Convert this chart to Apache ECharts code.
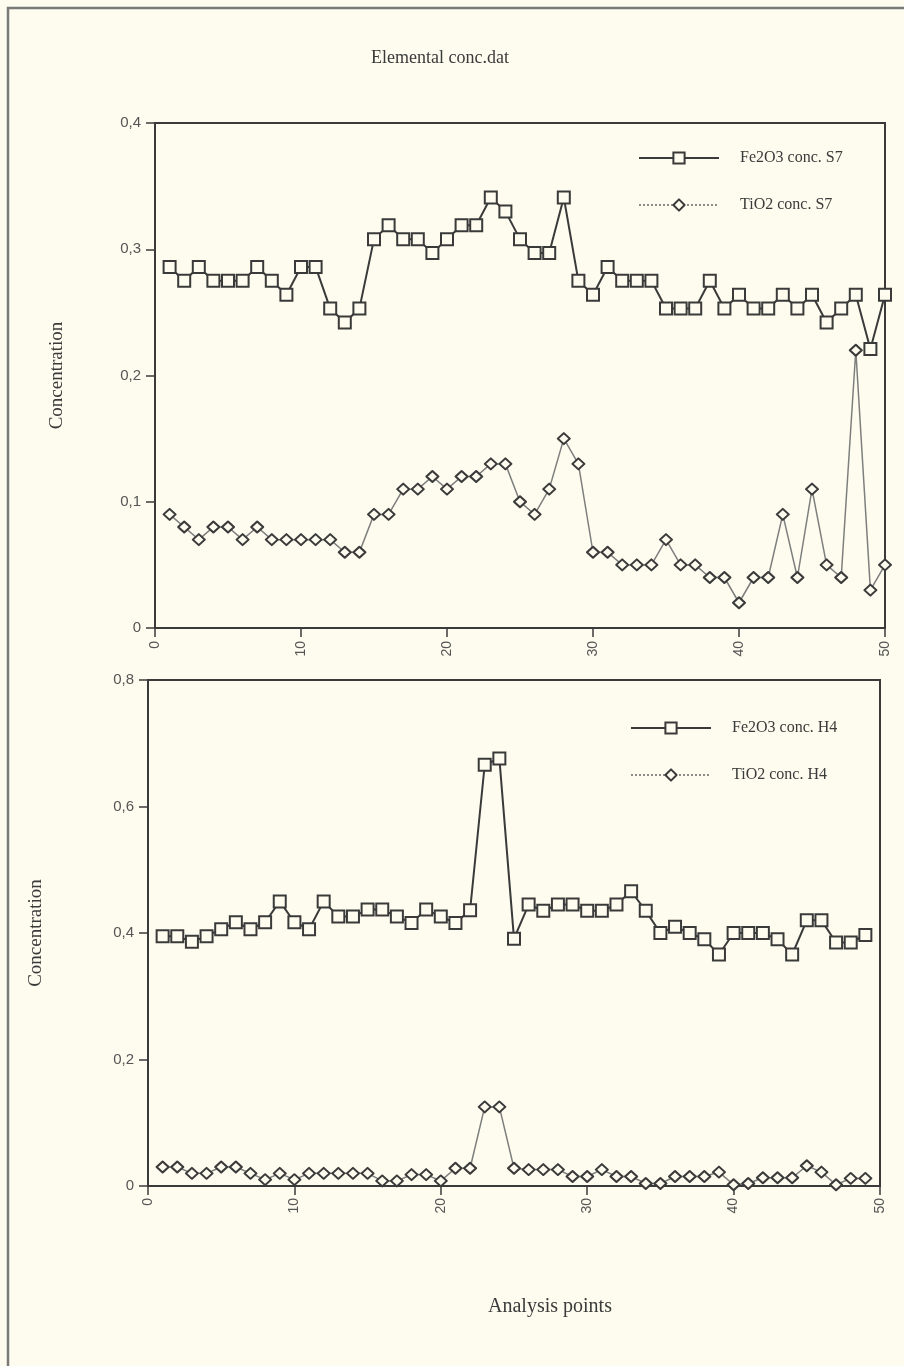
<!DOCTYPE html>
<html><head><meta charset="utf-8">
<script src="https://cdn.jsdelivr.net/npm/echarts@6/dist/echarts.min.js"></script>
<style>html,body{margin:0;padding:0;background:#fdfcef;} #c{width:904px;height:1366px;}</style>
</head><body><div id="c"></div>
<script>
// ---- data ----
const titleText = 'Elemental conc.dat';
const yName = 'Concentration';
const xName = 'Analysis points';
const seriesNames = ['Fe2O3 conc. S7', 'TiO2 conc. S7', 'Fe2O3 conc. H4', 'TiO2 conc. H4'];
const xTicks = [0, 10, 20, 30, 40, 50];

const feS7 = [0.286,0.275,0.286,0.275,0.275,0.275,0.286,0.275,0.264,0.286,
              0.286,0.253,0.242,0.253,0.308,0.319,0.308,0.308,0.297,0.308,
              0.319,0.319,0.341,0.330,0.308,0.297,0.297,0.341,0.275,0.264,
              0.286,0.275,0.275,0.275,0.253,0.253,0.253,0.275,0.253,0.264,
              0.253,0.253,0.264,0.253,0.264,0.242,0.253,0.264,0.221,0.264];
const tiS7 = [0.09,0.08,0.07,0.08,0.08,0.07,0.08,0.07,0.07,0.07,
              0.07,0.07,0.06,0.06,0.09,0.09,0.11,0.11,0.12,0.11,
              0.12,0.12,0.13,0.13,0.10,0.09,0.11,0.15,0.13,0.06,
              0.06,0.05,0.05,0.05,0.07,0.05,0.05,0.04,0.04,0.02,
              0.04,0.04,0.09,0.04,0.11,0.05,0.04,0.22,0.03,0.05];
const feH4 = [0.395,0.395,0.386,0.395,0.406,0.417,0.406,0.417,0.450,0.417,
              0.406,0.450,0.426,0.426,0.437,0.437,0.426,0.416,0.437,0.426,
              0.416,0.436,0.666,0.676,0.391,0.445,0.435,0.445,0.445,0.435,
              0.435,0.445,0.466,0.435,0.400,0.410,0.400,0.390,0.366,0.400,
              0.400,0.400,0.390,0.366,0.420,0.420,0.385,0.385,0.397];
const tiH4 = [0.030,0.030,0.020,0.020,0.030,0.030,0.020,0.010,0.020,0.010,
              0.020,0.020,0.020,0.020,0.020,0.008,0.008,0.018,0.018,0.008,
              0.028,0.028,0.125,0.125,0.028,0.026,0.026,0.026,0.015,0.015,
              0.026,0.015,0.015,0.004,0.004,0.015,0.015,0.015,0.022,0.002,
              0.004,0.013,0.013,0.013,0.032,0.022,0.002,0.012,0.012];

// ---- styling ----
const BG = '#fdfcef';
const INK = '#3a3a3a';
const SERIF = '"Liberation Serif", "DejaVu Serif", serif';
const SANS = '"Liberation Sans", Arial, sans-serif';
const fmt = v => v === 0 ? '0' : v.toFixed(1).replace('.', ',');
const pairs = arr => arr.map((v, i) => [i + 1, v]);

function xAxis(gridIndex, margin) {
  return {
    type: 'value', gridIndex, min: xTicks[0], max: xTicks[xTicks.length - 1], interval: 10,
    axisLine: { show: true, lineStyle: { color: INK, width: 2 } },
    axisTick: { show: true, length: 9, lineStyle: { color: INK, width: 1.5 } },
    axisLabel: { rotate: 90, margin, color: '#555', fontFamily: SANS, fontSize: 14 },
    splitLine: { show: false }
  };
}
function yAxis(gridIndex, max, interval, nameGap) {
  return {
    type: 'value', gridIndex, min: 0, max, interval,
    axisLine: { show: true, lineStyle: { color: INK, width: 2 } },
    axisTick: { show: true, length: 9, lineStyle: { color: INK, width: 1.5 } },
    axisLabel: { formatter: fmt, margin: 14, color: '#555', fontFamily: SANS, fontSize: 15 },
    splitLine: { show: false },
    name: yName, nameLocation: 'middle', nameRotate: 90, nameGap,
    nameTextStyle: { fontFamily: SERIF, fontSize: 19, color: INK }
  };
}
function feSeries(name, data, idx) {
  return {
    name, type: 'line', xAxisIndex: idx, yAxisIndex: idx, data: pairs(data),
    symbol: 'rect', symbolSize: 12, showSymbol: true,
    lineStyle: { color: INK, width: 2 },
    itemStyle: { color: BG, borderColor: INK, borderWidth: 2 },
    emphasis: { disabled: true }, animation: false, z: 3
  };
}
function tiSeries(name, data, idx) {
  return {
    name, type: 'line', xAxisIndex: idx, yAxisIndex: idx, data: pairs(data),
    symbol: 'diamond', symbolSize: [12, 11], showSymbol: true,
    lineStyle: { color: '#7e7e7e', width: 1.5 },
    itemStyle: { color: BG, borderColor: '#3a3a3a', borderWidth: 2, borderJoin: 'round' },
    emphasis: { disabled: true }, animation: false, z: 2
  };
}
function legend(names, left, top) {
  return {
    orient: 'vertical', left, top, padding: 0, itemWidth: 80, itemHeight: 14, itemGap: 31,
    selectedMode: false,
    textStyle: { fontFamily: SERIF, fontSize: 16, color: INK, padding: [0, 0, 0, 16] },
    data: [
      { name: names[0] },
      { name: names[1], lineStyle: { type: [2, 2], color: '#666', width: 1.5 } }
    ]
  };
}

const chart = echarts.init(document.getElementById('c'), null, { renderer: 'canvas' });
chart.setOption({
  backgroundColor: BG,
  animation: false,
  graphic: [
    { type: 'rect', shape: { x: 8, y: 8, width: 1000, height: 2000 },
      style: { fill: 'none', stroke: '#7a7a7a', lineWidth: 2.5 }, silent: true },
    { type: 'text', x: 440, y: 58,
      style: { text: titleText, font: '18px ' + SERIF, fill: INK, textAlign: 'center', textVerticalAlign: 'middle' } },
    { type: 'text', x: 550, y: 1307,
      style: { text: xName, font: '20px ' + SERIF, fill: INK, textAlign: 'center', textVerticalAlign: 'middle' } }
  ],
  grid: [
    { left: 155, top: 123, width: 730, height: 505, show: true, borderColor: INK, borderWidth: 2, backgroundColor: 'transparent' },
    { left: 148, top: 680, width: 732, height: 506, show: true, borderColor: INK, borderWidth: 2, backgroundColor: 'transparent' }
  ],
  xAxis: [xAxis(0, 13), xAxis(1, 12)],
  yAxis: [yAxis(0, 0.4, 0.1, 88), yAxis(1, 0.8, 0.2, 102)],
  legend: [
    legend([seriesNames[0], seriesNames[1]], 638, 150),
    legend([seriesNames[2], seriesNames[3]], 630, 720)
  ],
  series: [
    feSeries(seriesNames[0], feS7, 0),
    tiSeries(seriesNames[1], tiS7, 0),
    feSeries(seriesNames[2], feH4, 1),
    tiSeries(seriesNames[3], tiH4, 1)
  ]
});
</script>
</body></html>
